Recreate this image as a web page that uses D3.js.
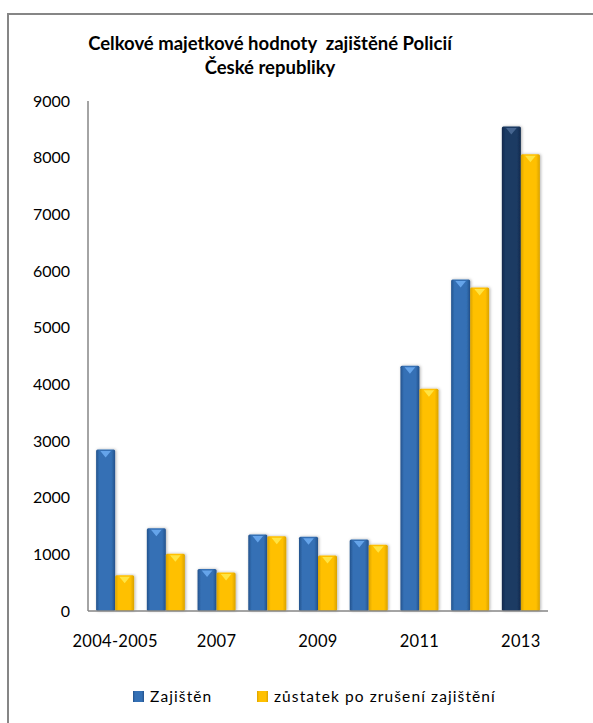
<!DOCTYPE html>
<html>
<head>
<meta charset="utf-8">
<script src="https://cdn.jsdelivr.net/npm/d3@7"></script>
<style>
	body { margin: 0; background: #fff; }
	text { font-family: Lato, "Open Sans", sans-serif; fill: #000; }
</style>
</head>
<body>
<svg id="chart" width="593" height="723"></svg>
<script>
var categories = ["2004-2005", "2006", "2007", "2008", "2009", "2010", "2011", "2012", "2013"];
var zajisteno = [2850, 1460, 740, 1350, 1310, 1260, 4330, 5850, 8550];
var zustatek = [630, 1010, 680, 1320, 980, 1170, 3920, 5710, 8060];
var seriesNames = ["Zajištěn", "zůstatek po zrušení zajištění"];
var yTicks = [0, 1000, 2000, 3000, 4000, 5000, 6000, 7000, 8000, 9000];
var xLabels = ["2004-2005", "2007", "2009", "2011", "2013"];

(function () {
	var svg = d3.select("#chart");
	var margin = { top: 101, left: 88, right: 45, bottom: 112 };
	var width = 593 - margin.left - margin.right,
		height = 723 - margin.top - margin.bottom;

	// gradients for the bevelled bars
	var defs = svg.append("defs");
	function grad(id, edge, mid) {
		var gr = defs.append("linearGradient").attr("id", id)
			.attr("x1", "0").attr("x2", "1").attr("y1", "0").attr("y2", "0");
		gr.append("stop").attr("offset", "0").attr("stop-color", edge);
		gr.append("stop").attr("offset", "0.18").attr("stop-color", mid);
		gr.append("stop").attr("offset", "0.8").attr("stop-color", mid);
		gr.append("stop").attr("offset", "1").attr("stop-color", edge);
	}
	grad("gBlue", "#24528c", "#3470b5");
	grad("gNavy", "#10294a", "#1b3a64");
	grad("gYellow", "#d9a200", "#ffc000");
	var sh = defs.append("filter").attr("id", "shadow")
		.attr("x", "-30%").attr("y", "-5%").attr("width", "160%").attr("height", "110%");
	sh.append("feDropShadow").attr("dx", 1).attr("dy", 0).attr("stdDeviation", 1.5)
		.attr("flood-color", "#000").attr("flood-opacity", 0.3);

	// outer frame
	svg.append("rect")
		.attr("x", 8).attr("y", 14).attr("width", 600).attr("height", 720)
		.attr("fill", "none").attr("stroke", "#868686").attr("stroke-width", 2);

	svg.append("text")
		.attr("x", 270).attr("y", 50)
		.attr("text-anchor", "middle")
		.style("white-space", "pre")
		.style("font-weight", "bold").style("font-size", "18.5px")
		.text("Celkové majetkové hodnoty  zajištěné Policií");
	svg.append("text")
		.attr("x", 270).attr("y", 74)
		.attr("text-anchor", "middle")
		.style("font-weight", "bold").style("font-size", "18.5px")
		.text("České republiky");

	var g = svg.append("g").attr("transform", "translate(" + margin.left + "," + margin.top + ")");

	var x = d3.scaleBand()
		.domain(categories)
		.range([0, width])
		.paddingInner(0.25)
		.paddingOuter(0.16);
	var x1 = d3.scaleBand().domain([0, 1]).range([0, x.bandwidth()]);

	var y = d3.scaleLinear().domain([0, 9000]).range([height, 0]);

	// y axis labels
	g.append("g")
		.call(d3.axisLeft(y).tickValues(yTicks).tickFormat(d3.format("d")).tickSize(0).tickPadding(18))
		.call(function (a) {
			a.select(".domain").remove();
			a.selectAll("text").style("font-size", "16px").style("font-family", "Lato, sans-serif").attr("fill", "#000");
		});

	var groups = g.selectAll(".grp")
		.data(categories)
		.enter().append("g")
		.attr("class", "grp")
		.attr("transform", function (d) { return "translate(" + x(d) + ",0)"; });

	var bars = groups.selectAll(".bar")
		.data(function (d, i) {
			return [
				{ s: 0, v: zajisteno[i], c: d },
				{ s: 1, v: zustatek[i], c: d }
			];
		})
		.enter().append("g").attr("class", "bar");

	function fillOf(d) {
		if (d.s === 1) return "url(#gYellow)";
		return d.c === "2013" ? "url(#gNavy)" : "url(#gBlue)";
	}
	function triOf(d) {
		if (d.s === 1) return "#ffe84a";
		return d.c === "2013" ? "#4b6a95" : "#6aaaf0";
	}

	bars.append("rect")
		.attr("x", function (d) { return x1(d.s); })
		.attr("y", function (d) { return y(d.v); })
		.attr("width", x1.bandwidth())
		.attr("height", function (d) { return height - y(d.v); })
		.attr("rx", 1.5)
		.attr("fill", fillOf)
		.attr("filter", "url(#shadow)");

	// small bevel chevron on top of each bar
	bars.append("path")
		.attr("d", function (d) {
			var x0 = x1(d.s), w = x1.bandwidth(), t = y(d.v);
			return "M" + (x0 + w * 0.22) + "," + (t + 1.5) +
				"L" + (x0 + w * 0.78) + "," + (t + 1.5) +
				"L" + (x0 + w / 2) + "," + (t + 8) + "Z";
		})
		.attr("fill", triOf)
		.attr("opacity", 0.9);

	// axes lines
	g.append("line")
		.attr("x1", 0).attr("x2", 0).attr("y1", 0).attr("y2", height)
		.attr("stroke", "#868686").attr("stroke-width", 1.5);
	g.append("line")
		.attr("x1", 0).attr("x2", width).attr("y1", height).attr("y2", height)
		.attr("stroke", "#868686").attr("stroke-width", 1.5);

	// x labels every other category
	g.selectAll(".xl")
		.data(xLabels)
		.enter().append("text")
		.attr("class", "xl")
		.attr("x", function (d) { return x(d) + x.bandwidth() / 2; })
		.attr("y", height + 36)
		.attr("text-anchor", "middle")
		.style("font-size", "16.5px")
		.style("letter-spacing", "0.3px")
		.text(function (d) { return d; });

	// legend
	var legX = [133, 257];
	var legFill = ["url(#gBlue)", "url(#gYellow)"];
	var leg = svg.selectAll(".leg")
		.data(seriesNames)
		.enter().append("g")
		.attr("class", "leg")
		.attr("transform", function (d, i) { return "translate(" + legX[i] + ",692)"; });
	leg.append("rect")
		.attr("width", 11).attr("height", 11).attr("y", -1)
		.attr("fill", function (d, i) { return legFill[i]; });
	leg.append("text")
		.attr("x", 17).attr("y", 10)
		.style("font-size", "15.5px")
		.style("letter-spacing", "1.1px")
		.text(function (d) { return d; });
})();
</script>
</body>
</html>
